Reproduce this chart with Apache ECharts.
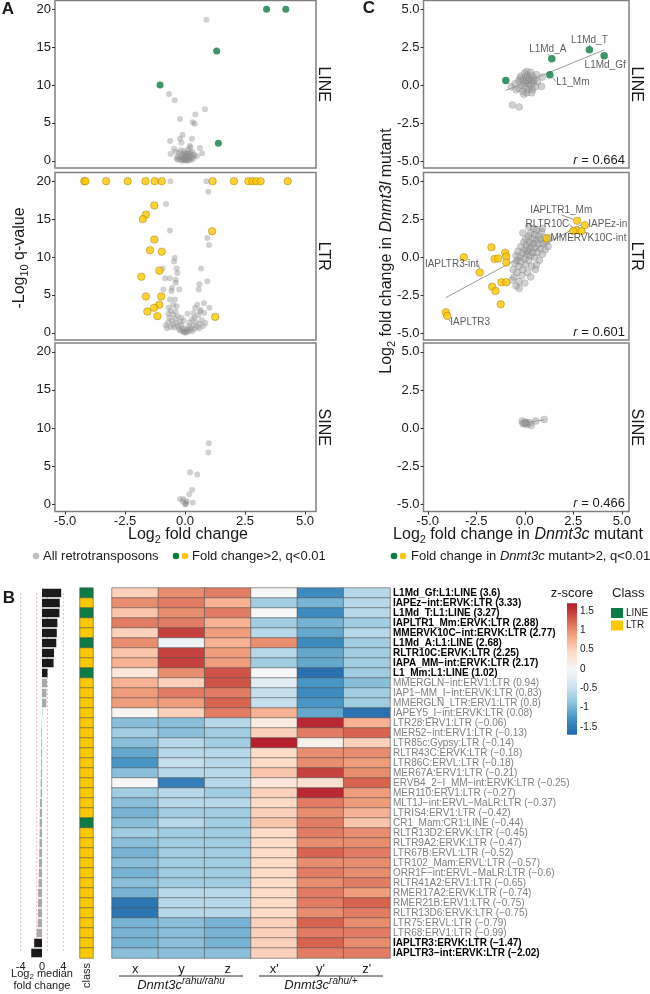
<!DOCTYPE html>
<html><head><meta charset="utf-8">
<script src="https://cdn.jsdelivr.net/npm/echarts@6/dist/echarts.min.js"></script>
<style>html,body{margin:0;padding:0;background:#fff}#c{width:650px;height:994px}</style>
</head><body><div id="c"></div>
<script>
// ---------------- DATA ----------------
const aXTicks = [-5, -2.5, 0, 2.5, 5];
const aYTicks = [0, 5, 10, 15, 20];
const cTicks = [-5, -2.5, 0, 2.5, 5];
const facetNames = ['LINE', 'LTR', 'SINE'];

// Panel A: volcano plots (log2 FC, -log10 q)
const aLineGrey = [[0.89,18.6],[-0.67,8.8],[-0.43,8.0],[0.83,6.8],[0.43,6.1],[-0.21,5.5],[0.32,5.1],[0.40,4.9],[-0.10,3.4],[-0.62,2.6],[0.29,2.9],[-0.21,2.9],[-0.15,2.4],[0.20,2.0],[-0.46,1.6],[0.62,1.7],[-0.60,0.9],[0.71,1.0],[0.49,0.6],[-0.30,0.5],[-0.20,0.2],[-0.10,0.8],[0.00,0.1],[0.05,0.4],[0.10,1.0],[0.15,0.3],[0.20,0.6],[0.25,0.1],[0.30,1.2],[-0.05,1.3],[0.00,0.6],[0.10,0.0],[-0.15,0.0],[0.35,0.3],[-0.25,1.1],[0.12,1.5],[0.22,1.8],[-0.35,0.3],[0.05,0.05],[-0.08,0.3],[0.18,0.9],[-0.02,1.0],[0.40,0.8],[-0.40,1.2],[-0.05,0.2],[0.08,0.25],[-0.12,0.5],[0.18,0.15],[0.28,0.45],[-0.22,0.7],[0.02,0.9],[0.14,0.7],[-0.3,0.15],[0.32,0.7],[0.0,0.35],[0.06,0.6],[-0.06,0.05],[0.22,1.1],[-0.18,1.4]];
const aLineSig = [[3.40,20],[4.20,20],[1.32,14.5],[-1.04,10.0],[1.39,2.3]];
const aLtrGrey = [[-0.61,20],[0.89,20],[0.97,18.6],[-0.79,17.0],[-0.63,13.5],[0.93,12.5],[1.00,11.6],[-0.93,8.5],[-0.43,9.9],[-0.46,9.4],[-0.35,8.5],[-0.32,7.9],[-0.83,7.2],[-0.63,7.2],[-0.39,7.0],[-0.39,6.6],[0.67,8.5],[0.60,6.4],[0.93,6.8],[0.57,5.7],[-0.90,5.7],[-0.54,5.9],[-0.57,5.5],[-0.24,5.7],[-0.63,4.4],[-0.42,4.4],[-0.49,3.7],[-0.68,3.3],[0.51,3.7],[0.42,3.3],[0.79,3.9],[1.01,3.3],[0.63,2.8],[0.35,2.6],[-0.8,1.0],[-0.75,0.6],[-0.7,1.4],[-0.65,2.0],[-0.6,0.8],[-0.55,1.6],[-0.5,2.4],[-0.5,1.1],[-0.45,0.7],[-0.4,1.9],[-0.4,2.8],[-0.35,1.3],[-0.3,0.9],[-0.3,2.2],[-0.25,0.5],[-0.2,1.5],[-0.2,0.3],[-0.15,1.0],[-0.1,0.2],[-0.1,0.6],[-0.05,0.1],[0,0],[0,0.4],[0.05,0.15],[0.1,0.5],[0.1,0.1],[0.15,0.9],[0.2,0.3],[0.2,1.4],[0.25,0.6],[0.3,1.8],[0.3,0.2],[0.35,1.0],[0.4,0.5],[0.4,2.0],[0.45,1.4],[0.5,0.8],[0.55,2.3],[0.6,1.2],[0.6,0.6],[0.7,1.7],[0.75,0.9],[0.8,2.6],[0.85,1.3],[-0.6,2.9],[-0.7,2.5],[0.65,3.0],[-0.35,3.5],[-0.15,2.0],[0.1,2.5],[-0.05,1.6]];
const aLtrSig = [[-4.20,20],[-4.15,20],[-3.29,20],[-2.39,20],[-1.65,20],[-1.26,20],[-0.97,20],[1.15,20],[2.04,20],[2.64,20],[2.81,20],[2.97,20],[3.15,20],[4.28,20],[-1.28,16.8],[-1.63,15.6],[-1.76,15.0],[-1.28,12.3],[-1.46,10.9],[-0.97,10.7],[-1.07,8.2],[-1.82,7.4],[-1.63,4.8],[-0.99,4.8],[-1.07,3.7],[-1.29,3.3],[-1.57,2.8],[-1.15,2.2],[1.13,13.4],[1.26,2.1]];
const aSineGrey = [[0.99,8.0],[0.97,6.8],[0.21,4.2],[0.51,3.9],[0.29,1.9],[0.18,1.3],[-0.21,0.7],[-0.07,0.7],[0.07,0.4],[0.32,0.2],[0.01,0.0],[0.04,0.2],[-0.10,0.4],[0.02,0.05]];

// Panel C: Dnmt3c vs Dnmt3l log2 FC
const cLineGrey = [[-0.64,-1.3],[-0.29,-1.43],[0.86,-0.08],[0.90,0.54],[-0.7,-0.1],[-0.5,0.1],[-0.45,-0.3],[-0.3,0.3],[-0.3,-0.2],[-0.2,0.6],[-0.15,0.0],[-0.1,0.35],[-0.1,-0.4],[0,0.8],[0,0.15],[0.05,-0.1],[0.05,0.5],[0.1,0.3],[0.1,-0.5],[0.15,0.65],[0.2,0.1],[0.2,-0.25],[0.25,0.45],[0.3,0.85],[0.3,0.0],[0.35,0.3],[0.4,-0.3],[0.4,0.6],[0.45,0.15],[0.5,0.4],[0.55,-0.1],[0.6,0.7],[0.65,0.25],[-0.05,-0.6],[0.1,0.9],[-0.25,0.45],[0.2,0.35],[0.35,-0.5]];
const cLineSig = [[-0.98,0.32],[1.29,0.69],[1.39,1.74],[3.33,2.33],[4.09,1.94]];
const cLineSigNames = ['', 'L1_Mm', 'L1Md_A', 'L1Md_T', 'L1Md_Gf'];
const cLineFit = [[-0.98,-0.34],[4.09,2.33]];
const cLineR = '0.664';
const cLtrGrey = [[-0.6,-0.8],[-0.55,-1.3],[-0.5,-0.4],[-0.45,0.1],[-0.4,-1.0],[-0.4,-0.2],[-0.35,0.4],[-0.3,-1.6],[-0.3,-0.6],[-0.25,0.0],[-0.2,0.7],[-0.2,-0.3],[-0.15,-1.2],[-0.1,0.3],[-0.1,-0.8],[-0.05,1.0],[0,-0.1],[0,0.5],[0.05,-0.5],[0.05,1.2],[0.1,0.2],[0.1,0.8],[0.15,-1.0],[0.15,0.4],[0.2,1.4],[0.2,-0.2],[0.25,0.6],[0.25,1.0],[0.3,0.1],[0.3,1.6],[0.35,0.7],[0.35,-0.6],[0.4,1.2],[0.4,0.3],[0.45,0.9],[0.5,1.5],[0.5,0.0],[0.55,0.6],[0.6,1.1],[0.6,1.8],[0.65,0.3],[0.7,0.9],[0.7,1.4],[0.75,-0.2],[0.8,0.6],[0.8,1.2],[0.85,1.7],[0.9,0.2],[0.95,0.9],[1.0,1.3],[1.05,0.5],[1.1,1.0],[1.2,0.7],[1.25,1.3],[-0.29,-2.05],[0.0,-1.7],[-0.45,-1.9],[0.3,-1.3],[0.55,-0.8],[-0.65,-1.5],[0.2,2.0],[0.45,1.9],[-0.1,1.6],[0.6,-0.5],[0.9,1.9]];
const cLtrSig = [[2.70,2.4],[3.09,2.11],[2.66,1.78],[2.92,1.72],[2.50,1.72],[1.12,1.24],[-1.72,0.65],[-3.14,0.0],[-1.56,-0.12],[-1.37,-0.08],[-1.01,0.3],[-0.95,0.05],[-0.95,-0.34],[-2.32,-1.0],[-1.2,-1.65],[-0.95,-1.65],[-1.68,-1.94],[-1.51,-2.22],[-1.24,-3.1],[-4.07,-3.62],[-4.0,-3.86]];
const cLtrSigNames = ['IAPLTR1_Mm','IAPEz-in','RLTR10C','MMERVK10C-int','','','','','','','','','','IAPLTR3-int','','','','','','','IAPLTR3'];
const cLtrFit = [[-4.07,-2.66],[3.0,2.2]];
const cLtrR = '0.601';
const cSineGrey = [[1.0,0.58],[0.57,0.47],[0.33,0.19],[0.09,0.38],[-0.14,0.47],[-0.09,0.3],[0.12,0.25],[0.02,0.38],[0.26,0.36],[0.0,0.3]];
const cSineFit = [[-0.14,0.33],[1.0,0.55]];
const cSineR = '0.466';

// Panel B
const hmNames = ['L1Md_Gf:L1:LINE','IAPEz-int:ERVK:LTR','L1Md_T:L1:LINE','IAPLTR1_Mm:ERVK:LTR','MMERVK10C-int:ERVK:LTR','L1Md_A:L1:LINE','RLTR10C:ERVK:LTR','IAPA_MM-int:ERVK:LTR','L1_Mm:L1:LINE','MMERGLN-int:ERV1:LTR','IAP1-MM_I-int:ERVK:LTR','MMERGLN_LTR:ERV1:LTR','IAPEY5_I-int:ERVK:LTR','LTR28:ERV1:LTR','MER52-int:ERV1:LTR','LTR85c:Gypsy:LTR','RLTR43C:ERVK:LTR','LTR86C:ERVL:LTR','MER67A:ERV1:LTR','ERVB4_2-I_MM-int:ERVK:LTR','MER110:ERV1:LTR','MLT1J-int:ERVL-MaLR:LTR','LTRIS4:ERV1:LTR','CR1_Mam:CR1:LINE','RLTR13D2:ERVK:LTR','RLTR9A2:ERVK:LTR','LTR67B:ERVL:LTR','LTR102_Mam:ERVL:LTR','ORR1F-int:ERVL-MaLR:LTR','RLTR41A2:ERV1:LTR','RMER17A2:ERVK:LTR','RMER21B:ERV1:LTR','RLTR13D6:ERVK:LTR','LTR75:ERVL:LTR','LTR68:ERV1:LTR','IAPLTR3:ERVK:LTR','IAPLTR3-int:ERVK:LTR'];
const medianFC = [3.6,3.33,3.27,2.88,2.77,2.68,2.25,2.17,1.02,0.94,0.83,0.8,0.08,-0.06,-0.13,-0.14,-0.18,-0.18,-0.21,-0.25,-0.27,-0.37,-0.42,-0.44,-0.45,-0.47,-0.52,-0.57,-0.6,-0.65,-0.74,-0.75,-0.75,-0.79,-0.99,-1.47,-2.02];
const barTicks = [-4, 0, 4];
const barGuides = [-4, -1, 1, 4];
const hmCols = ['x', 'y', 'z', "x'", "y'", "z'"];
const zX  = [0.5,1.0,0.6,1.1,0.5,1.0,0.6,0.75,0.25,0.75,0.9,0.9,0.05,-0.9,-0.75,-0.9,-1.1,-1.25,-0.9,0.0,-0.75,-0.9,-1.0,-0.9,-0.75,-0.9,-1.0,-0.9,-1.0,-0.9,-1.0,-1.55,-1.55,-1.0,-1.0,-1.0,-0.9];
const zY  = [1.0,1.1,1.0,1.1,1.45,-0.1,1.45,1.45,1.0,0.5,1.1,0.9,0.5,-0.9,-0.9,-0.6,-0.6,-0.5,-0.6,-1.45,-0.6,-0.6,-0.75,-0.6,-0.75,-0.75,-0.75,-0.75,-0.75,-0.75,-0.6,-0.6,-0.6,-0.9,-0.9,-0.9,-0.9];
const zZ  = [1.1,0.75,1.1,0.75,0.9,0.75,0.9,0.9,1.35,1.35,1.1,1.25,1.1,-0.6,-0.75,-0.75,-0.6,-0.6,-0.6,-0.6,-0.75,-0.6,-0.75,-0.75,-0.75,-0.75,-0.75,-0.75,-0.75,-0.75,-0.6,-0.6,-0.6,-1.0,-1.0,-1.0,-0.9];
const zX2 = [0.0,-0.75,0.0,-0.75,-0.6,1.0,-0.6,-0.75,0.0,-0.25,-0.5,-0.5,0.75,0.2,0.5,1.65,0.4,0.4,0.6,0.25,0.5,0.4,0.5,0.6,0.4,0.4,0.4,0.4,0.4,0.4,0.4,0.4,0.4,0.5,0.5,0.5,0.5];
const zY2 = [-1.35,-1.0,-1.35,-1.0,-1.1,-1.35,-1.1,-1.1,-1.6,-1.25,-1.35,-1.25,-1.1,1.6,1.1,0.1,1.0,1.0,1.45,0.35,1.6,1.1,1.0,1.1,1.1,1.0,1.25,1.0,1.1,1.0,1.1,1.1,1.0,1.25,1.1,1.25,1.1];
const zZ2 = [-0.6,-0.6,-0.6,-0.75,-0.6,-0.75,-0.75,-0.75,-0.75,-0.9,-0.75,-0.75,-1.6,0.75,1.25,0.5,1.0,0.9,1.0,1.25,0.9,0.9,0.75,0.6,1.0,1.0,1.1,1.0,1.0,1.1,0.9,1.25,1.1,1.0,1.1,1.0,1.1];
const zTicks = [1.5, 1, 0.5, 0, -0.5, -1, -1.5];

// ---------------- STYLE / LAYOUT ----------------
const FONT = '"Liberation Sans", Arial, Helvetica, sans-serif';
const INK = '#1a1a1a';
const GREEN = '#0b7c43', YELLOW = '#fcc800';
const HM_COLORS = ['#2166ac','#4393c3','#92c5de','#d1e5f0','#f7f7f7','#fddbc7','#f4a582','#d6604d','#b2182b'];
const ZMIN = -1.7, ZMAX = 1.7;
const panelTops = [0.5, 172.5, 343];
const panelH = [167.5, 167.5, 168.5];

const grids = [], xAxes = [], yAxes = [], series = [];
const noLine = () => ({show:false, onZero:false});

for (let k = 0; k < 3; k++) {
  grids.push({left:55, top:panelTops[k], width:261, height:panelH[k], show:true, borderColor:'#808080', borderWidth:1.5, backgroundColor:'#fff'});
}
for (let k = 0; k < 3; k++) {
  grids.push({left:423.5, top:panelTops[k], width:205.5, height:panelH[k], show:true, borderColor:'#808080', borderWidth:1.5, backgroundColor:'#fff'});
}
for (let g = 0; g < 6; g++) {
  const isA = g < 3, bottom = (g === 2 || g === 5);
  const xt = isA ? aXTicks : cTicks, yt = isA ? aYTicks : cTicks;
  xAxes.push({gridIndex:g, type:'value', position:'bottom', min: isA ? -5.42 : -5.22, max: isA ? 5.46 : 5.37,
    axisLine:noLine(), splitLine:{show:false},
    axisTick:{show:bottom, customValues:xt, length:3, lineStyle:{color:'#333'}},
    axisLabel:{show:bottom, customValues:xt, formatter:v=>v.toFixed(1), fontSize:13, color:INK, margin:3, fontFamily:FONT}});
  yAxes.push({gridIndex:g, type:'value', position:'left', min: isA ? -0.95 : -5.45, max: isA ? 21.15 : 5.58,
    axisLine:noLine(), splitLine:{show:false},
    axisTick:{show:true, customValues:yt, length:3, lineStyle:{color:'#333'}},
    axisLabel:{customValues:yt, formatter: isA ? (v=>String(v)) : (v=>v.toFixed(1)), fontSize:13, color:INK, margin:4, fontFamily:FONT}});
}
grids.push({left:15, top:588, width:55, height:370});
grids.push({left:80, top:588, width:13, height:370});
grids.push({left:112, top:588, width:278, height:370});
const rowIdx = hmNames.map((_, i) => i);
xAxes.push({gridIndex:6, type:'value', position:'bottom', min:-5.07, max:5.25, axisLine:noLine(), splitLine:{show:false}, axisTick:{show:false},
  axisLabel:{customValues:barTicks, fontSize:11, color:INK, margin:3, fontFamily:FONT}});
yAxes.push({gridIndex:6, type:'category', data:rowIdx, inverse:true, show:false, axisLine:noLine()});
xAxes.push({gridIndex:7, type:'category', data:['class'], axisLine:noLine(), axisTick:{show:false},
  axisLabel:{rotate:90, fontSize:11, color:INK, margin:5, fontFamily:FONT}});
yAxes.push({gridIndex:7, type:'category', data:rowIdx, inverse:true, show:false});
xAxes.push({gridIndex:8, type:'category', data:hmCols, axisLine:noLine(), axisTick:{show:false},
  axisLabel:{fontSize:13, color:INK, margin:5, fontFamily:FONT}});
const fmtNum = v => String(v).replace('-', '\u2212');
const hmLabels = hmNames.map((n, i) => n.replace(/-/g, '\u2212') + ' (' + fmtNum(medianFC[i]) + ')');
yAxes.push({gridIndex:8, type:'category', data:hmLabels, inverse:true, position:'right',
  axisLine:noLine(), axisTick:{show:false},
  axisLabel:{interval:0, margin:3, fontSize:10, fontFamily:FONT,
    formatter:(v, i) => Math.abs(medianFC[i]) > 1 ? '{b|' + v + '}' : '{g|' + v + '}',
    rich:{b:{fontWeight:'bold', color:'#000', fontSize:10, fontFamily:FONT}, g:{color:'#808080', fontSize:10, fontFamily:FONT}}}});

// ---- scatter series ----
const greyA = {color:'rgba(140,140,140,0.5)'};
const greyC = {color:'rgba(150,150,150,0.55)', borderColor:'rgba(100,100,100,0.45)', borderWidth:0.5};
function sc(g, data, size, style, extra) {
  return Object.assign({type:'scatter', xAxisIndex:g, yAxisIndex:g, data, symbolSize:size, itemStyle:style, silent:true, animation:false}, extra || {});
}
function fitLine(g, data) {
  return {type:'line', xAxisIndex:g, yAxisIndex:g, data, symbol:'none', silent:true, animation:false, lineStyle:{color:'#9a9a9a', width:1}};
}
series.push(sc(0, aLineGrey, 6, greyA));
series.push(sc(0, aLineSig, 7, {color:GREEN}));
series.push(sc(1, aLtrGrey, 6, greyA));
series.push(sc(1, aLtrSig, 7.5, {color:YELLOW, borderColor:'#8a6a00', borderWidth:0.5}));
series.push(sc(2, aSineGrey, 6, greyA));

const cLineLabelOff = {1:[23,7], 2:[-4,-10], 3:[0,-10], 4:[1,9]};
const cLtrLabelOff = {0:[-16,-11], 1:[23,-1], 2:[-29,-6], 3:[7,7], 13:[-28,-8], 20:[23,6]};
function labelled(g, pts, names, offs, size, style) {
  const data = pts.map((p, i) => ({value:p, name:names[i], label:{show: !!names[i]}}));
  return sc(g, data, size, style, {
    z:5,
    label:{show:true, position:'inside', formatter:'{b}', fontSize:10, color:'#333', fontFamily:FONT},
    labelLine:{show:true, lineStyle:{color:'#666', width:0.7}},
    labelLayout:(p) => { const o = offs[p.dataIndex]; return o ? {dx:o[0], dy:o[1]} : {}; }
  });
}
series.push(fitLine(3, cLineFit));
series.push(sc(3, cLineGrey, 7, greyC));
series.push(labelled(3, cLineSig, cLineSigNames, cLineLabelOff, 7.5, {color:GREEN}));
series.push(fitLine(4, cLtrFit));
series.push(sc(4, cLtrGrey, 7, greyC));
series.push(labelled(4, cLtrSig, cLtrSigNames, cLtrLabelOff, 7.5, {color:YELLOW, borderColor:'#8a6a00', borderWidth:0.5}));
series.push(fitLine(5, cSineFit));
series.push(sc(5, cSineGrey, 7, greyC));

// ---- B series ----
// dashed guide lines (behind the bars), spanning all rows
barGuides.forEach(v => {
  series.push({type:'line', xAxisIndex:6, yAxisIndex:6, z:1, silent:true, animation:false, symbol:'none',
    data:[[v, 0], [v, hmNames.length - 1]],
    lineStyle:{type:[2,2], width:0.8, color: Math.abs(v) === 1 ? '#e8a0a8' : '#bbbbbb'}});
});
series.push({type:'bar', xAxisIndex:6, yAxisIndex:6, data:medianFC, barWidth:8.5, silent:true, animation:false, z:3,
  itemStyle:{color:(p) => Math.abs(p.value) > 1 ? '#1a1a1a' : '#a9a9a9'}});
const classData = hmNames.map((n, i) => [0, i, n.split(':').pop() === 'LINE' ? 0 : 1]);
const classSeriesIndex = series.length;
series.push({type:'heatmap', xAxisIndex:7, yAxisIndex:7, data:classData, silent:true, animation:false,
  itemStyle:{borderColor:'#555', borderWidth:0.6}});
const zCols = [zX, zY, zZ, zX2, zY2, zZ2];
const hmData = [];
zCols.forEach((col, c) => col.forEach((v, r) => hmData.push([c, r, v])));
const hmSeriesIndex = series.length;
series.push({type:'heatmap', xAxisIndex:8, yAxisIndex:8, data:hmData, silent:true, animation:false,
  itemStyle:{borderColor:'#555', borderWidth:0.6}});

// ---------------- GRAPHIC (text, legends) ----------------
const G = [];
function txt(x, y, text, o, rot) {
  const st = Object.assign({text, fill:INK, fontSize:13, fontFamily:FONT, textAlign:'center', textVerticalAlign:'middle', align:'center', verticalAlign:'middle'}, o || {});
  const el = {type:'text', x, y, silent:true, style:st, z:10};
  if (rot) el.rotation = rot;
  G.push(el);
}
const subRich = (fs) => ({s:{fontSize:fs, fontFamily:FONT, fill:INK, verticalAlign:'bottom', lineHeight:fs}, i:{fontStyle:'italic', fontSize:16, fontFamily:FONT, fill:INK}});
txt(8, 9, 'A', {fontSize:17, fontWeight:'bold'});
txt(369, 8, 'C', {fontSize:17, fontWeight:'bold'});
txt(9, 598, 'B', {fontSize:17, fontWeight:'bold'});
txt(20, 258, '-Log{s|10} q-value', {fontSize:16, lineHeight:20, rich:subRich(11)}, Math.PI / 2);
txt(188, 535, 'Log{s|2} fold change', {fontSize:16, lineHeight:20, rich:subRich(11)});
txt(387, 251, 'Log{s|2} fold change in {i|Dnmt3l} mutant', {fontSize:16, lineHeight:20, rich:subRich(11)}, Math.PI / 2);
txt(518, 535, 'Log{s|2} fold change in {i|Dnmt3c} mutant', {fontSize:16, lineHeight:20, rich:subRich(11)});
const stripY = panelTops.map((t, k) => t + panelH[k] / 2);
facetNames.forEach((f, k) => {
  txt(323, stripY[k], f, {fontSize:16}, -Math.PI / 2);
  txt(636, stripY[k], f, {fontSize:16}, -Math.PI / 2);
});
[cLineR, cLtrR, cSineR].forEach((r, k) => {
  txt(625, panelTops[k] + panelH[k] - 8, '{i|r} = ' + r, {fontSize:13, textAlign:'right', align:'right', rich:{i:{fontStyle:'italic', fontSize:13, fontFamily:FONT, fill:INK}}});
});
function dot(cx, cy, fill) { G.push({type:'circle', shape:{cx, cy, r:3.3}, style:{fill}, silent:true, z:10}); }
const legY = 556;
dot(36, legY, 'rgba(140,140,140,0.55)');
txt(43, legY, 'All retrotransposons', {textAlign:'left', align:'left', fontSize:13});
dot(176, legY, GREEN); dot(185, legY, YELLOW);
txt(192, legY, 'Fold change>2, q<0.01', {textAlign:'left', align:'left', fontSize:13});
dot(394, legY, GREEN); dot(403, legY, YELLOW);
txt(411, legY, 'Fold change in {i|Dnmt3c} mutant>2, q<0.01', {textAlign:'left', align:'left', fontSize:13, rich:{i:{fontStyle:'italic', fontSize:13, fontFamily:FONT, fill:INK}}});
txt(42, 974, 'Log{s|2} median', {fontSize:11, lineHeight:14, rich:{s:{fontSize:8, fontFamily:FONT, fill:INK, verticalAlign:'bottom', lineHeight:8}}});
txt(42, 986, 'fold change', {fontSize:11});
G.push({type:'line', shape:{x1:119, y1:976, x2:243, y2:976}, style:{stroke:'#333', lineWidth:1}, silent:true});
G.push({type:'line', shape:{x1:259, y1:976, x2:383, y2:976}, style:{stroke:'#333', lineWidth:1}, silent:true});
const supRich = {i:{fontStyle:'italic', fontSize:13, fontFamily:FONT, fill:INK, lineHeight:18}, p:{fontStyle:'italic', fontSize:10, fontFamily:FONT, fill:INK, verticalAlign:'top', lineHeight:10}};
txt(181, 985, '{i|Dnmt3c}{p|rahu/rahu}', {rich:supRich});
txt(321, 985, '{i|Dnmt3c}{p|rahu/+}', {rich:supRich});
txt(572, 593, 'z-score', {fontSize:13});
const zy = v => 669 - v * 38.7;
const stops = HM_COLORS.slice().reverse().map((c, i) => ({offset: i / (HM_COLORS.length - 1), color:c}));
G.push({type:'rect', shape:{x:567, y:zy(ZMAX), width:10, height:zy(ZMIN) - zy(ZMAX)}, style:{fill:new echarts.graphic.LinearGradient(0, 0, 0, 1, stops)}, silent:true});
zTicks.forEach(v => txt(580, zy(v), String(v), {fontSize:10, textAlign:'left', align:'left'}));
txt(612, 593, 'Class', {fontSize:13, textAlign:'left', align:'left'});
G.push({type:'rect', shape:{x:611, y:608, width:12, height:10}, style:{fill:GREEN}, silent:true});
G.push({type:'rect', shape:{x:611, y:620.5, width:12, height:10}, style:{fill:YELLOW}, silent:true});
txt(626, 613, 'LINE', {fontSize:10, textAlign:'left', align:'left'});
txt(626, 625.5, 'LTR', {fontSize:10, textAlign:'left', align:'left'});

const chart = echarts.init(document.getElementById('c'), null, {renderer:'canvas', width:650, height:994});
chart.setOption({
  animation:false,
  textStyle:{fontFamily:FONT},
  grid:grids, xAxis:xAxes, yAxis:yAxes, series,
  visualMap:[
    {type:'continuous', show:false, seriesIndex:hmSeriesIndex, dimension:2, min:ZMIN, max:ZMAX, inRange:{color:HM_COLORS}},
    {type:'piecewise', show:false, seriesIndex:classSeriesIndex, dimension:2, pieces:[{value:0, color:GREEN}, {value:1, color:YELLOW}]}
  ],
  graphic:G
});
</script>
</body></html>
